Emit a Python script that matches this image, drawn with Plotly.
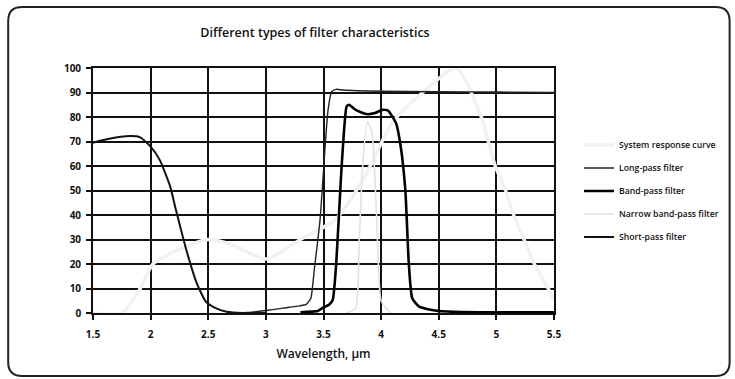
import plotly.graph_objects as go

# ---- data ----
system_x = [1.5, 1.75, 1.91, 2.02, 2.3, 2.5, 2.7, 3.0, 3.3, 3.6, 3.85, 4.1, 4.36, 4.65, 4.87, 4.93, 4.99, 5.08, 5.15, 5.24, 5.33, 5.45, 5.5]
system_y = [0, 0, 10, 20, 27, 30, 28, 22, 30, 38, 55, 78, 90, 100, 80, 70, 60, 50, 40, 30, 20, 10, 5]

longpass_x = [2.7, 2.85, 3.0, 3.15, 3.29, 3.35, 3.39, 3.42, 3.47, 3.52, 3.54, 3.57, 3.61, 3.67, 4.0, 4.5, 5.0, 5.5]
longpass_y = [0, 0.2, 1, 2, 2.9, 3.5, 6, 17.6, 38, 72, 83, 90.3, 91.3, 91, 90.5, 90.3, 90.2, 90]

bandpass_x = [3.3, 3.45, 3.49, 3.55, 3.58, 3.61, 3.65, 3.67, 3.70, 3.72, 3.78, 3.87, 3.94, 4.01, 4.06, 4.13, 4.17, 4.21, 4.24, 4.27, 4.33, 4.44, 4.5, 4.7, 5.0, 5.5]
bandpass_y = [0.3, 0.8, 2, 3.5, 5.3, 20, 54, 69, 84.2, 85, 82.9, 81.2, 81.5, 82.9, 82.6, 77.4, 67.9, 50.2, 20.3, 6, 2.6, 1.2, 0.8, 0.4, 0.3, 0.3]

narrow_x = [3.7, 3.78, 3.81, 3.84, 3.88, 3.92, 3.96, 4.0, 4.08]
narrow_y = [0, 2, 30, 60, 78, 74, 40, 5, 0]

shortpass_x = [1.5, 1.62, 1.82, 1.91, 2.0, 2.08, 2.17, 2.22, 2.31, 2.40, 2.48, 2.57, 2.66, 2.8, 3.0]
shortpass_y = [69.5, 70.9, 72.2, 71.7, 67.9, 62.4, 51.6, 42, 25.7, 12.2, 4.6, 1.9, 0.5, 0, 0]

x_ticks = [1.5, 2, 2.5, 3, 3.5, 4, 4.5, 5, 5.5]
x_ticktext = ["1.5", "2", "2.5", "3", "3.5", "4", "4.5", "5", "5.5"]
y_ticks = [0, 10, 20, 30, 40, 50, 60, 70, 80, 90, 100]

FONT = "Open Sans"

fig = go.Figure()
fig.add_trace(go.Scatter(x=system_x, y=system_y, mode="lines", name="System response curve",
                         line=dict(color="#f1f1f1", width=3.5, shape="spline", smoothing=0.6),
                         legendgroup="a"))
fig.add_trace(go.Scatter(x=longpass_x, y=longpass_y, mode="lines", name="Long-pass filter",
                         line=dict(color="#222222", width=1.4, shape="spline", smoothing=0.5),
                         legendgroup="b"))
fig.add_trace(go.Scatter(x=bandpass_x, y=bandpass_y, mode="lines", name="Band-pass filter",
                         line=dict(color="#000000", width=2.6, shape="spline", smoothing=0.5),
                         legendgroup="c"))
fig.add_trace(go.Scatter(x=narrow_x, y=narrow_y, mode="lines", name="Narrow band-pass filter",
                         line=dict(color="#e2e2e2", width=1.6, shape="spline", smoothing=0.5),
                         legendgroup="d"))
fig.add_trace(go.Scatter(x=shortpass_x, y=shortpass_y, mode="lines", name="Short-pass filter",
                         line=dict(color="#111111", width=2.0, shape="spline", smoothing=0.5),
                         legendgroup="e"))

L, R, T, B = 93, 180, 68, 66
W, H = 735, 379
pw, ph = W - L - R, H - T - B

def px(x):
    return (x - L) / pw

def py(y):
    return (H - B - y) / ph

x0, y0, x1, y1, r = 8, 7, 731, 376, 14
rx, ry = r / pw, r / ph
path = (f"M {px(x0)+rx},{py(y0)} L {px(x1)-rx},{py(y0)} Q {px(x1)},{py(y0)} {px(x1)},{py(y0)-ry} "
        f"L {px(x1)},{py(y1)+ry} Q {px(x1)},{py(y1)} {px(x1)-rx},{py(y1)} "
        f"L {px(x0)+rx},{py(y1)} Q {px(x0)},{py(y1)} {px(x0)},{py(y1)+ry} "
        f"L {px(x0)},{py(y0)-ry} Q {px(x0)},{py(y0)} {px(x0)+rx},{py(y0)} Z")

fig.update_layout(
    width=W, height=H,
    margin=dict(l=L, r=R, t=T, b=B),
    paper_bgcolor="white", plot_bgcolor="white",
    title=dict(text="Different types of filter characteristics", x=315 / W, xanchor="center",
               y=1 - 33 / H, yanchor="middle",
               font=dict(family=FONT, size=12.5, color="#111", weight=600)),
    xaxis=dict(range=[1.5, 5.5], tickvals=x_ticks, ticktext=x_ticktext,
               showgrid=True, gridcolor="#111", gridwidth=1.8,
               showline=True, linecolor="#111", linewidth=1.8, mirror=True,
               ticks="outside", ticklen=5, tickcolor="#111", tickwidth=1.5,
               ticklabelstandoff=6,
               tickfont=dict(family=FONT, size=10, color="#111", weight=700),
               title=dict(text="Wavelength, μm", standoff=10,
                          font=dict(family=FONT, size=12, color="#111", weight=600)),
               zeroline=False),
    yaxis=dict(range=[0, 100], tickvals=y_ticks,
               showgrid=True, gridcolor="#111", gridwidth=1.8,
               showline=True, linecolor="#111", linewidth=1.8, mirror=True,
               ticks="outside", ticklen=5, tickcolor="#111", tickwidth=1.5,
               ticklabelstandoff=3,
               tickfont=dict(family=FONT, size=10, color="#111", weight=700),
               zeroline=False),
    legend=dict(x=1.052, xanchor="left", y=0.745, yanchor="top",
                font=dict(family=FONT, size=8.7, color="#111", weight=600),
                tracegroupgap=4, itemwidth=30, bgcolor="rgba(0,0,0,0)"),
    shapes=[dict(type="path", path=path, xref="paper", yref="paper",
                 line=dict(color="#222", width=2), layer="below")],
)

fig.write_html("out.html", config={"displayModeBar": False},
               post_script="document.body.style.margin='0';")
